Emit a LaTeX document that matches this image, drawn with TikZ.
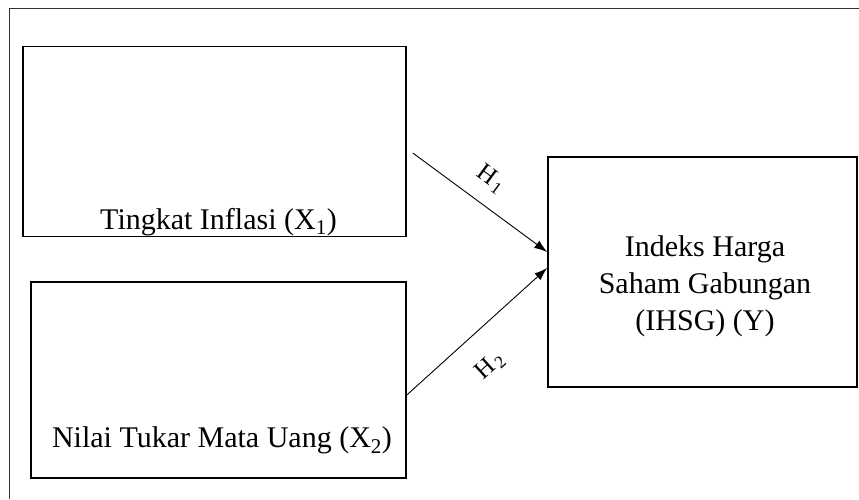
\documentclass[tikz,border=0pt]{standalone}
\usepackage{fontspec}
\setmainfont{Liberation Serif}
\usetikzlibrary{arrows.meta,positioning}
\begin{document}
\begin{tikzpicture}[x=1pt, y=-1pt, >={Latex[length=13pt,width=9pt]},
    kotak/.style={draw, line width=1.6pt, rectangle, inner sep=0pt},
    teks/.style={font=\fontsize{30}{37}\selectfont, inner sep=0pt},
    hip/.style={font=\fontsize{25}{28}\selectfont, inner sep=0pt}]
\useasboundingbox (0,0) rectangle (859,499);
% Bingkai luar
\draw[line width=1.6pt, black!80] (9.5,499) -- (9.5,8.5) -- (859,8.5);
% Variabel X1
\node[kotak, minimum width=383pt, minimum height=190pt] (inflasi) at (214.5,141.5) {};
\node[teks, anchor=base] (inflasiTeks) at ([xshift=4pt, yshift=8pt]inflasi.south) {Tingkat Inflasi (X\textsubscript{1})};
% Variabel X2
\node[kotak, minimum width=375pt, minimum height=196pt] (nilai) at (218.5,380) {};
\node[teks, anchor=base] (nilaiTeks) at ([xshift=3.5pt, yshift=31pt]nilai.south) {Nilai Tukar Mata Uang (X\textsubscript{2})};
% Variabel Y
\node[kotak, minimum width=309pt, minimum height=230pt] (ihsg) at (702.5,272) {};
\node[teks, align=center] (ihsgTeks) at (705,286) {Indeks Harga\\Saham Gabungan\\(IHSG) (Y)};
% Hipotesis
\coordinate (h1awal) at ([xshift=6pt, yshift=-11.5pt]inflasi.east);
\draw[->, line width=0.9pt] (h1awal) -- node[hip, sloped, above=15pt, pos=0.47] {H\kern1.5pt\textsubscript{1}} ([yshift=20pt]ihsg.west);
\draw[->, line width=0.9pt] ([yshift=-15pt]nilai.east) -- node[hip, sloped, below=24pt, pos=0.43] {H\kern1.5pt\textsubscript{2}} ([yshift=4pt]ihsg.west);
\end{tikzpicture}
\end{document}
